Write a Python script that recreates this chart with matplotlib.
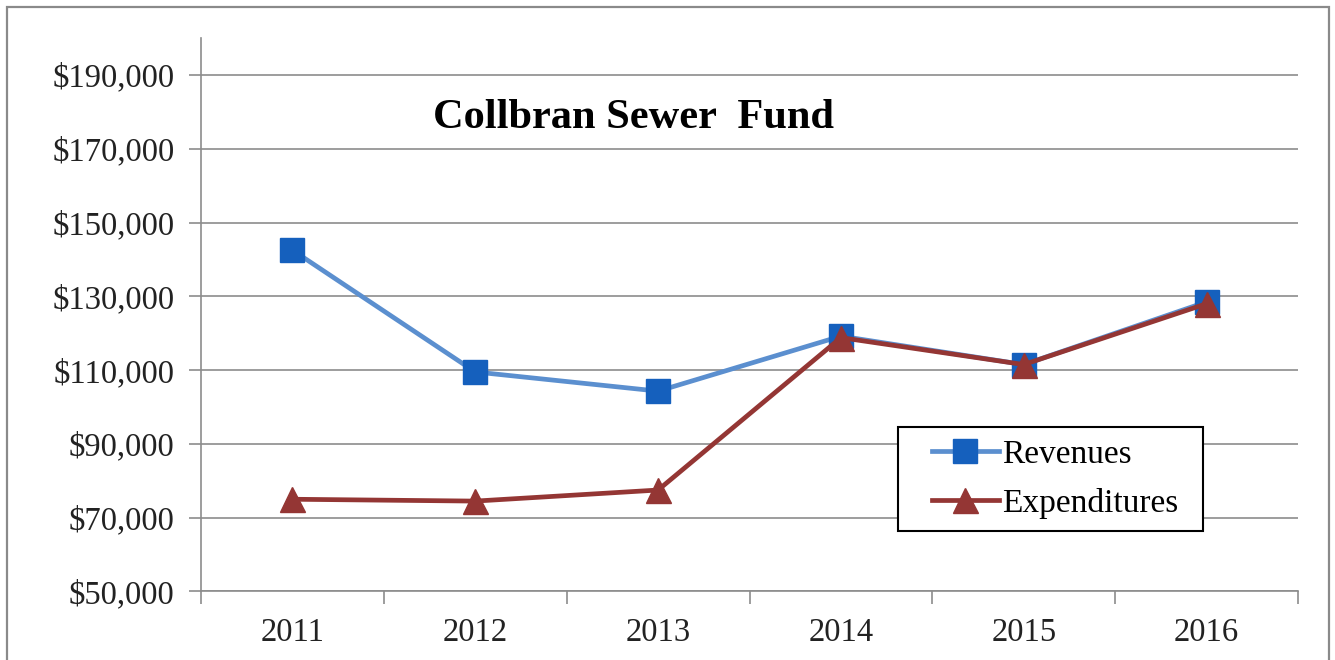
import matplotlib
matplotlib.use("Agg")
import matplotlib.pyplot as plt
from matplotlib.patches import Rectangle
from matplotlib.ticker import FuncFormatter, FixedLocator

# Collbran sewer fund, yearly totals
years = ["2011", "2012", "2013", "2014", "2015", "2016"]
revenues = [142500, 109500, 104300, 119200, 111500, 128500]
expenditures = [75000, 74500, 77500, 118800, 111500, 128000]

plt.rcParams["font.family"] = ["Liberation Serif", "DejaVu Serif"]

fig = plt.figure(figsize=(13.35, 6.6), dpi=100)
ax = fig.add_axes([0.1506, 0.1038, 0.8217, 0.8386])

# grey outer frame around the whole chart
fig.patches.append(Rectangle((0.0055, -0.01), 0.99, 1.0, transform=fig.transFigure,
                             fill=False, edgecolor="#8a8a8a", linewidth=1.6))

x = list(range(len(years)))
ax.plot(x, revenues, color="#5B8FCF", linewidth=3.4, marker="s", markersize=17,
        markerfacecolor="#1560BD", markeredgecolor="#1560BD", label="Revenues", zorder=3)
ax.plot(x, expenditures, color="#943634", linewidth=3.4, marker="^", markersize=18,
        markerfacecolor="#943634", markeredgecolor="#943634", label="Expenditures", zorder=4)

ax.set_xlim(-0.5, len(years) - 0.5)
ax.set_ylim(50000, 200000)

ax.yaxis.set_major_locator(FixedLocator(range(50000, 200001, 20000)))
ax.yaxis.set_major_formatter(FuncFormatter(lambda v, p: f"${v:,.0f}"))
ax.grid(axis="y", color="#8c8c8c", linewidth=1.2)
ax.set_axisbelow(True)

# category ticks between the years, labels under the year centres
ax.xaxis.set_major_locator(FixedLocator([i - 0.5 for i in range(len(years) + 1)]))
ax.xaxis.set_major_formatter(FuncFormatter(lambda v, p: ""))
ax.xaxis.set_minor_locator(FixedLocator(x))
ax.set_xticklabels(years, minor=True)
ax.tick_params(axis="x", which="minor", length=0, pad=19, labelsize=23.5, labelcolor="#222222")
ax.tick_params(axis="x", which="major", length=9, width=1.2, color="#8c8c8c")
ax.tick_params(axis="y", length=9, width=1.2, color="#8c8c8c", pad=10,
               labelsize=23.5, labelcolor="#222222")

for side in ["top", "right"]:
    ax.spines[side].set_visible(False)
for side in ["left", "bottom"]:
    ax.spines[side].set_color("#8c8c8c")
    ax.spines[side].set_linewidth(1.2)

ax.text(0.211, 0.838, "Collbran Sewer  Fund", transform=ax.transAxes,
        fontsize=30.5, fontweight="bold", color="black", ha="left", va="baseline")

# legend box drawn by hand so it can be wider than its contents
ax.add_patch(Rectangle((0.635, 0.109), 0.278, 0.188, transform=ax.transAxes,
                       facecolor="white", edgecolor="black", linewidth=1.5, zorder=5))
leg = ax.legend(loc="center left", bbox_to_anchor=(0.6664, 0.203), fontsize=24,
                frameon=False, handlelength=2.0, handletextpad=0.1, borderpad=0,
                labelspacing=0.55, borderaxespad=0)
leg.set_zorder(6)

fig.savefig("out.png", dpi=100)
